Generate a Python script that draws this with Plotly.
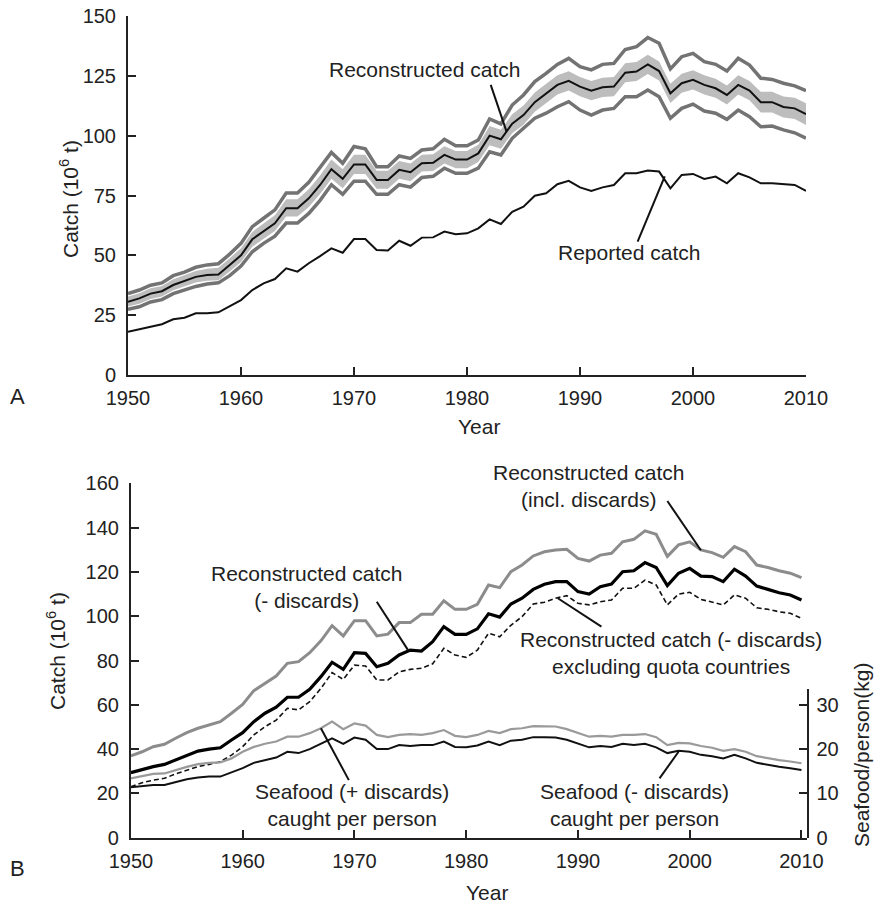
import plotly.graph_objects as go

years = list(range(1950, 2011))

# Panel A
recon_center = [30.6, 32, 34, 35, 37.6, 39.4, 41, 41.8, 42, 46, 50, 56.7, 60, 63.4, 69.7, 69.7, 73.8, 79.4, 86, 82,
                88, 88, 81.5, 81.5, 85.7, 84.7, 88.5, 88.7, 92, 90, 90, 92.6, 100, 98.5, 105, 108.6, 114, 117.7, 121.2, 122.9,
                120.5, 118.8, 120.2, 120.5, 126.3, 126.8, 129.8, 127, 117.7, 121.9, 123.3, 121.2, 119.8, 117, 121.2, 118.8, 114, 114, 112, 111.4,
                109]
recon_upper = [34, 35.5, 37.5, 38.5, 41.5, 43, 45, 46, 46.5, 50.5, 55, 62, 65.5, 69, 76, 76, 80.5, 87, 93, 88.5,
               95.5, 94.5, 87, 87, 91.5, 90.5, 94, 94.5, 98.5, 95.8, 95.8, 98.2, 107, 104.9, 112.8, 117, 122.6, 126, 129.8, 132.3,
               128.8, 127.5, 129.8, 130.2, 136, 137.2, 141, 138.6, 127.9, 133, 134.4, 130.9, 129.8, 127, 132.3, 129.5, 124, 123.5, 121.9, 120.8,
               118.8]
recon_lower = [27.5, 28.5, 30.5, 31.5, 34, 35.5, 37, 38, 38.5, 41.5, 45.5, 51.5, 55, 58, 63.5, 63.5, 67.5, 73, 79.5, 75.5,
               81, 81, 75.5, 75.5, 79.5, 78.5, 82.5, 83, 86.4, 84.3, 84.3, 86.4, 93.3, 91.9, 98.9, 103.1, 107.3, 109.4, 112.1, 114.2,
               110.7, 108.6, 110.7, 111.4, 116.3, 116.3, 119.1, 116.3, 107.3, 111.4, 113.2, 110.3, 109.4, 106.8, 110.7, 107.9, 103.7, 104, 102.4, 101.2,
               98.9]
band_hi = [32.8, 34.2, 36.2, 37.2, 40, 41.8, 43.5, 44.4, 44.8, 48.8, 53, 59.8, 63.2, 66.8, 73.4, 73.4, 77.6, 83.4, 90, 86,
           92, 92, 85.3, 85.3, 89.4, 88.4, 92, 92.2, 95.6, 93.6, 93.6, 96.2, 104, 102.5, 109, 112.6, 118, 121.7, 125.2, 126.9,
           124.5, 122.8, 124.2, 124.5, 130.3, 130.8, 133.8, 131, 121.7, 125.9, 127.3, 125.2, 123.8, 121, 125.2, 122.8, 118.3, 118.3, 116.4, 115.8,
           113.5]
band_lo = [28.6, 29.8, 31.8, 32.8, 35.4, 37, 38.6, 39.4, 39.6, 43.2, 47.2, 53.6, 57, 60.2, 66.2, 66.2, 70.2, 75.6, 82, 78,
           84, 84, 77.8, 77.8, 82, 81, 85, 85.2, 88.4, 86.4, 86.4, 89, 96, 94.5, 101, 104.6, 110, 113.7, 117.2, 118.9,
           116.5, 114.8, 116.2, 116.5, 122.3, 122.8, 125.8, 123, 113.7, 117.9, 119.3, 117.2, 115.8, 113, 117.2, 114.8, 109.7, 109.7, 107.6, 107,
           104.5]
reported = [18.1, 19.1, 20.2, 21.2, 23.3, 23.9, 25.8, 25.8, 26.2, 28.8, 31.3, 35.5, 38.3, 40.1, 44.6, 43.2, 46.7, 49.7, 52.9, 51.1,
            56.8, 56.8, 52.2, 52, 56.1, 54, 57.4, 57.5, 59.9, 58.8, 59.2, 61.3, 65, 63.1, 68.2, 70.3, 74.9, 75.9, 79.7, 81.1,
            78.4, 76.9, 78.4, 79.4, 84.3, 84.3, 85.4, 85, 78, 83.6, 84, 81.9, 82.9, 80.1, 84.3, 82.6, 80.1, 80.1, 79.7, 79.4,
            76.9]

# Panel B
incl_discards = [36.9, 38.8, 41.1, 42.2, 44.9, 47.4, 49.4, 50.9, 52.4, 56.2, 60.2, 66.4, 69.7, 73, 78.7, 79.5, 83.5, 88.9, 95.7, 91.1,
                 98, 98, 91.1, 91.9, 97.1, 97.1, 100.9, 100.9, 107, 103.1, 103.1, 105.4, 114.1, 112.9, 120.1, 123.1, 127.2, 129.1, 129.9, 130.2,
                 126.1, 124.9, 127.6, 128.4, 133.6, 134.7, 138.5, 137, 127, 132.2, 133.6, 129.9, 128.7, 126.6, 131.4, 129.1, 123.1, 122, 120.5, 119.4,
                 117.4]
minus_discards = [29.4, 30.9, 32.1, 33.1, 35.1, 37.3, 39.1, 40, 40.6, 44.1, 47.4, 52.4, 56.2, 58.9, 63.4, 63.4, 67, 72.7, 79.2, 76,
                  83.5, 83.2, 77.2, 78.7, 82.5, 84.7, 84.3, 88.5, 95.3, 91.8, 91.8, 94.3, 101.1, 99.6, 105.5, 108.1, 112.1, 114.4, 115.6, 115.6,
                  111.1, 110, 113.3, 114.5, 120.1, 120.5, 124.2, 122, 113.8, 119.4, 121.6, 118.1, 117.9, 115.6, 121.2, 118.1, 113.6, 112.1, 110.6, 109.6,
                  107.3]
excl_quota = [23, 24.8, 26, 26.8, 28.8, 30.6, 32.1, 33.1, 34.3, 37.3, 41.1, 46.4, 50.1, 53.1, 58.4, 57.7, 61.4, 67.4, 74.5, 71.5,
              77.9, 77.5, 71.2, 71.2, 74.9, 76, 76.5, 78.5, 85.5, 82.5, 81.4, 84.7, 92.3, 90.7, 95.9, 99.8, 105.5, 106.3, 108.1, 109.3,
              105.8, 105.1, 106.5, 107.3, 112.6, 112.6, 116.3, 114.1, 105.1, 110, 110.8, 107.6, 106.5, 105.1, 109.6, 108.1, 103.8, 103.1, 102, 101.3,
              99.0]
seafood_plus = [13.4, 13.9, 14.4, 14.5, 15.3, 16, 16.6, 16.9, 17, 17.9, 19.4, 20.5, 21.2, 21.7, 22.8, 22.8, 23.6, 24.7, 26.2, 24.5,
                25.8, 25.3, 23.2, 22.7, 23.2, 23.4, 23.2, 23.6, 24.3, 23, 22.7, 23.2, 24.1, 23.6, 24.5, 24.7, 25.2, 25.2, 25.1, 24.5,
                23.6, 22.8, 23, 22.8, 23.2, 23.2, 23.4, 22.7, 20.9, 21.4, 21.3, 20.7, 20.3, 19.6, 20, 19.4, 18.4, 17.9, 17.5, 17.2,
                16.8]
seafood_minus = [11.4, 11.7, 11.9, 11.9, 12.6, 13.2, 13.6, 13.8, 13.8, 14.7, 15.7, 16.9, 17.5, 18.1, 19.4, 19.1, 20, 21.2, 22.4, 21.2,
                 22.6, 22.1, 20, 20, 20.9, 20.7, 20.9, 20.9, 21.7, 20.5, 20.4, 20.8, 21.7, 20.9, 21.9, 22.1, 22.7, 22.7, 22.6, 22.1,
                 21.2, 20.4, 20.7, 20.5, 21.2, 20.9, 21.2, 20.4, 19.1, 19.6, 19.4, 18.7, 18.4, 17.9, 18.7, 17.9, 16.9, 16.4, 16, 15.7,
                 15.3]

x_ticks = [1950, 1960, 1970, 1980, 1990, 2000, 2010]
a_y_ticks = [0, 25, 50, 75, 100, 125, 150]
b_y_ticks = [0, 20, 40, 60, 80, 100, 120, 140, 160]
kg_ticks = [0, 10, 20, 30]

FONT = "Liberation Sans, Arial, sans-serif"
FS = 20
FA = 21
W, H = 874, 904

def px(y):
    return 1 - y / H

fig = go.Figure()

# Panel A traces
fig.add_trace(go.Scatter(x=years, y=band_lo, mode="lines", line=dict(width=0), xaxis="x", yaxis="y", showlegend=False))
fig.add_trace(go.Scatter(x=years, y=band_hi, mode="lines", line=dict(width=0), fill="tonexty",
                         fillcolor="#bdbdbd", xaxis="x", yaxis="y", showlegend=False))
fig.add_trace(go.Scatter(x=years, y=recon_upper, mode="lines", line=dict(color="#737373", width=3.5),
                         xaxis="x", yaxis="y", showlegend=False))
fig.add_trace(go.Scatter(x=years, y=recon_lower, mode="lines", line=dict(color="#737373", width=3.5),
                         xaxis="x", yaxis="y", showlegend=False))
fig.add_trace(go.Scatter(x=years, y=recon_center, mode="lines", line=dict(color="#111111", width=2),
                         xaxis="x", yaxis="y", showlegend=False))
fig.add_trace(go.Scatter(x=years, y=reported, mode="lines", line=dict(color="#111111", width=2),
                         xaxis="x", yaxis="y", showlegend=False))

# Panel B traces
fig.add_trace(go.Scatter(x=years, y=incl_discards, mode="lines", line=dict(color="#8c8c8c", width=3),
                         xaxis="x2", yaxis="y2", showlegend=False))
fig.add_trace(go.Scatter(x=years, y=excl_quota, mode="lines", line=dict(color="#111111", width=1.6, dash="5px,3px"),
                         xaxis="x2", yaxis="y2", showlegend=False))
fig.add_trace(go.Scatter(x=years, y=minus_discards, mode="lines", line=dict(color="#000000", width=3.2),
                         xaxis="x2", yaxis="y2", showlegend=False))
fig.add_trace(go.Scatter(x=years, y=seafood_plus, mode="lines", line=dict(color="#9a9a9a", width=2.2),
                         xaxis="x2", yaxis="y3", showlegend=False))
fig.add_trace(go.Scatter(x=years, y=seafood_minus, mode="lines", line=dict(color="#111111", width=2),
                         xaxis="x2", yaxis="y3", showlegend=False))

axis_common = dict(showline=True, linecolor="#222", linewidth=2, ticks="inside", ticklen=8, tickwidth=2,
                   tickcolor="#222", showgrid=False, zeroline=False, automargin=False,
                   tickfont=dict(family=FONT, size=FS, color="#222"))

fig.update_layout(
    width=W, height=H, margin=dict(l=0, r=0, t=0, b=0, autoexpand=False),
    paper_bgcolor="white", plot_bgcolor="rgba(0,0,0,0)",
    xaxis=dict(domain=[128 / W, 806 / W], range=[1950, 2010], tickvals=x_ticks, anchor="y",
               ticklabelstandoff=4, **axis_common),
    yaxis=dict(domain=[px(375), px(16)], range=[0, 150], tickvals=a_y_ticks, anchor="x",
               ticklabelstandoff=6, **axis_common),
    xaxis2=dict(domain=[130.9 / W, 806.5 / W], range=[1950, 2010.45], tickvals=x_ticks, anchor="y2",
                ticklabelstandoff=4, **axis_common),
    yaxis2=dict(domain=[px(837.7), px(483.3)], range=[0, 160], tickvals=b_y_ticks, anchor="x2",
                ticklabelstandoff=6, **axis_common),
    yaxis3=dict(domain=[px(837.7), px(837.7 - 33.5 * 354.4 / 80)], range=[0, 33.5], tickvals=kg_ticks,
                anchor="x2", side="right", ticklabelstandoff=4, **axis_common),
)

def ann(text, x, y, xref="paper", yref="paper", size=FA, angle=0, align="center"):
    fig.add_annotation(text=text, x=x, y=y, xref=xref, yref=yref, showarrow=False, textangle=angle,
                       font=dict(family=FONT, size=size, color="#222"), align=align,
                       xanchor="center", yanchor="middle")

def leader(x0, y0, x1, y1, xref, yref):
    fig.add_shape(type="line", x0=x0, y0=y0, x1=x1, y1=y1, xref=xref, yref=yref,
                  line=dict(color="#111", width=2))

# Panel A labels
ann("Reconstructed catch", 1976.2, 127.5, "x", "y")
leader(1982.1, 121.2, 1983.5, 101.7, "x", "y")
ann("Reported catch", 1994.3, 51.0, "x", "y")
leader(1995.1, 55.7, 1997.5, 83, "x", "y")

# Panel B labels
ann("Reconstructed catch<br>(incl. discards)", 1990.9, 158.9, "x2", "y2")
leader(1998.0, 152.0, 2001.0, 129.8, "x2", "y2")
ann("Reconstructed catch<br>(- discards)", 1965.7, 113.3, "x2", "y2")
leader(1972.0, 106.5, 1974.8, 84.7, "x2", "y2")
ann("Reconstructed catch (- discards)<br>excluding quota countries", 1998.3, 83.6, "x2", "y2")
leader(1988.2, 108.1, 1992.1, 95.3, "x2", "y2")
ann("Seafood (+ discards)<br>caught per person", 1969.8, 14.8, "x2", "y2")
leader(1967.0, 49.4, 1969.5, 26.0, "x2", "y2")
ann("Seafood (- discards)<br>caught per person", 1995.1, 14.8, "x2", "y2")
leader(1997.3, 26.8, 1999.0, 38.8, "x2", "y2")

# Axis titles and panel letters
ann("Catch (10<sup>6</sup> t)", 69 / W, px(199), angle=-90)
ann("Catch (10<sup>6</sup> t)", 56 / W, px(651), angle=-90)
ann("Seafood/person(kg)", 861 / W, px(755), angle=-90)
ann("Year", 479 / W, px(427))
ann("Year", 487 / W, px(892))
ann("A", 17 / W, px(397), size=22)
ann("B", 17 / W, px(868), size=22)

fig.write_html("out.html", config={"displayModeBar": False},
               post_script="document.body.style.margin='0';document.body.style.overflow='hidden';")
